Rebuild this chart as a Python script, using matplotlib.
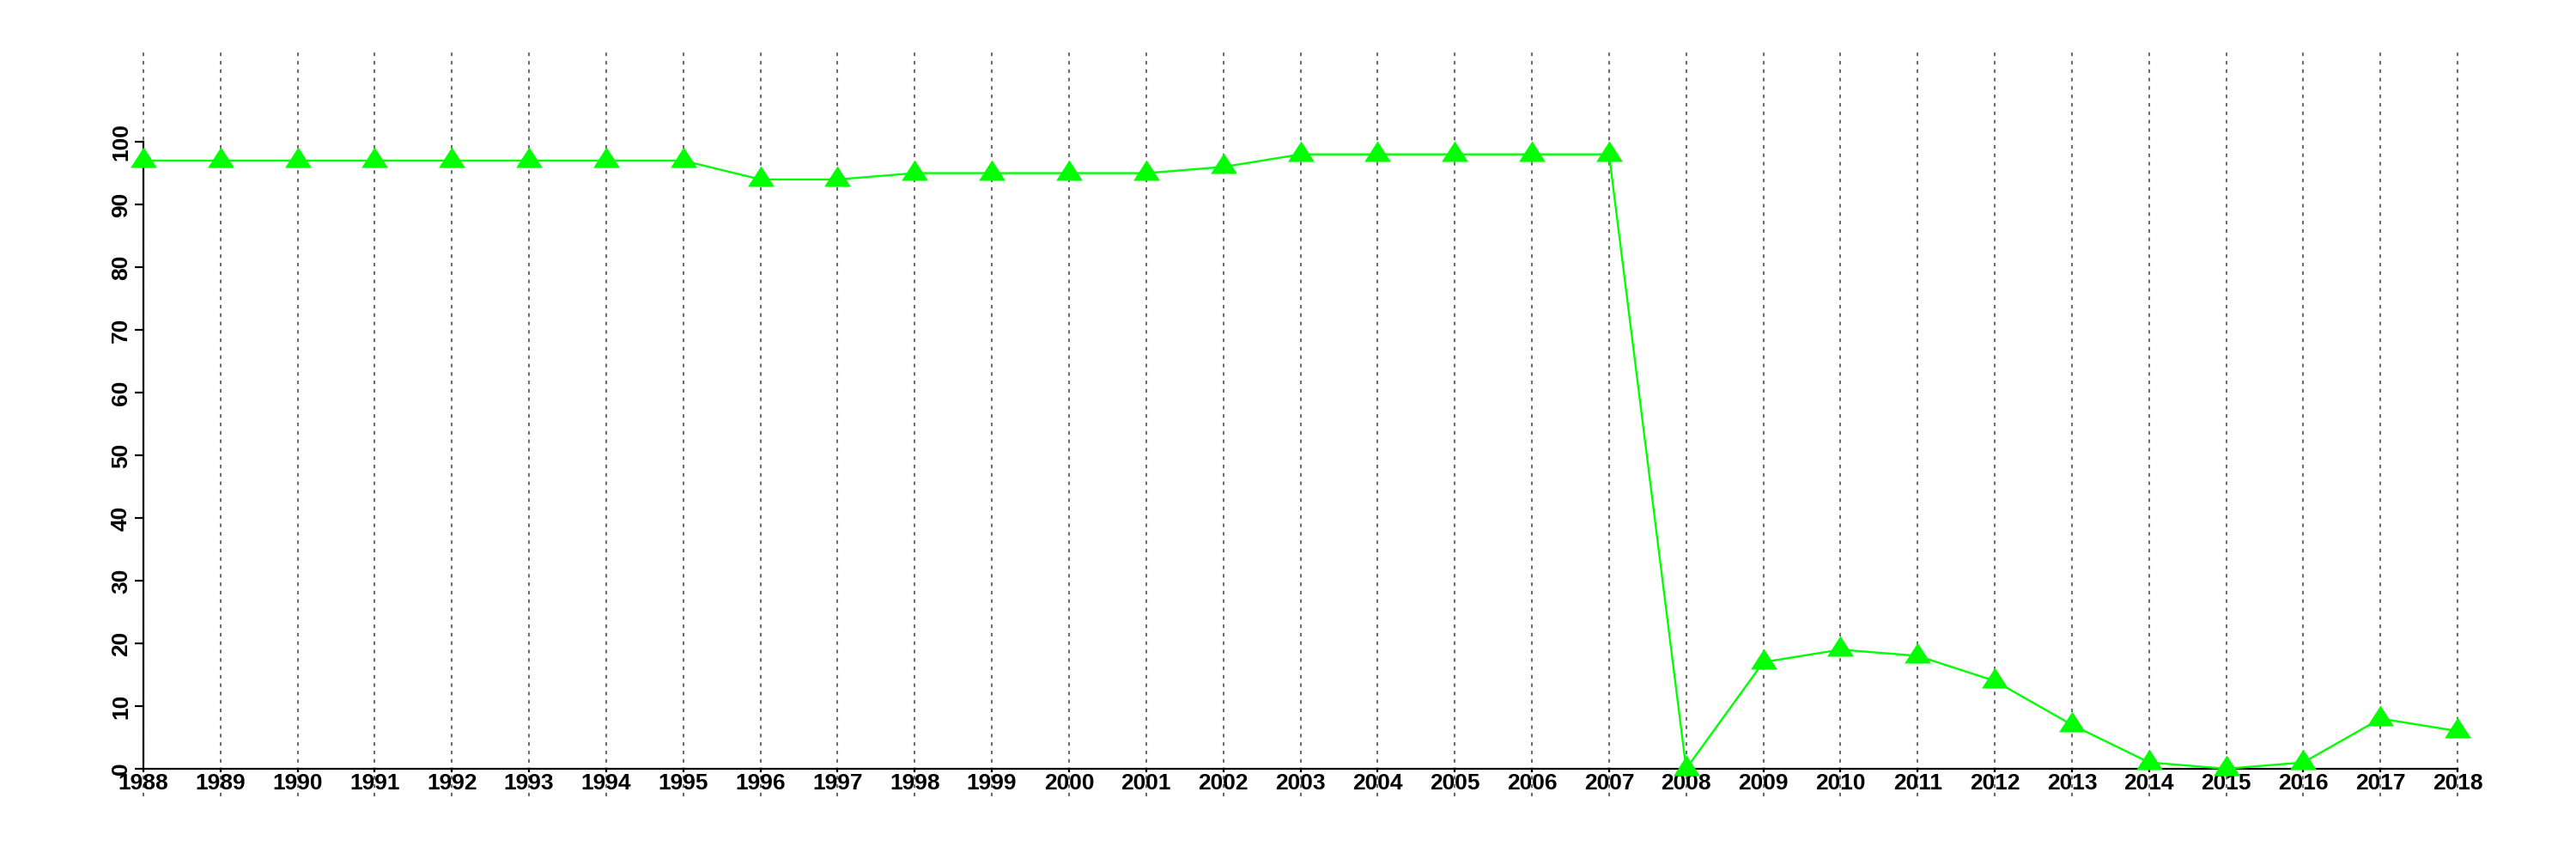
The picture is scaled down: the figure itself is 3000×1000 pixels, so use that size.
import matplotlib
matplotlib.use("Agg")
import matplotlib.pyplot as plt
from matplotlib.path import Path
import numpy as np

# data
years = list(range(1988, 2019))
values = [97, 97, 97, 97, 97, 97, 97, 97, 94, 94,
          95, 95, 95, 95, 96, 98, 98, 98, 98, 98,
          0, 17, 19, 18, 14, 7, 1, 0, 1, 8, 6]
y_ticks = list(range(0, 101, 10))

plt.rcParams['font.family'] = ['Liberation Sans Narrow', 'Liberation Sans', 'DejaVu Sans']
plt.rcParams['font.weight'] = 'bold'

fig = plt.figure(figsize=(30, 10), dpi=100)
fig.patch.set_facecolor('white')
ax = fig.add_axes([59 / 3000, 0.073, (2970 - 59) / 3000, 0.94 - 0.073])

# triangle with its centroid on the data point (like R's pch 17)
tri = Path([(0, 2), (-1.93, -1), (1.93, -1), (0, 2)],
           [Path.MOVETO, Path.LINETO, Path.LINETO, Path.CLOSEPOLY])

# dashed vertical grid, one per year
for yr in years:
    ax.axvline(yr, color='#6e6e6e', lw=1.5, dashes=(2.0, 2.7), zorder=1)

ax.plot(years, values, color='#00ff00', lw=1.7, zorder=3, clip_on=False)
ax.plot(years, values, ls='none', marker=tri, ms=23, color='#00ff00',
        markeredgewidth=0, zorder=4, clip_on=False)

ax.set_xlim(1986.8, 2019.2)
ax.set_ylim(-4.4, 114.4)

for side in ['top', 'right']:
    ax.spines[side].set_visible(False)
ax.spines['left'].set_position(('data', 1988))
ax.spines['bottom'].set_position(('data', 0))
ax.spines['left'].set_bounds(0, 100)
ax.spines['bottom'].set_bounds(1988, 2018)
for side in ['left', 'bottom']:
    ax.spines[side].set_linewidth(1.6)
    ax.spines[side].set_zorder(2)

ax.set_xticks(years)
ax.set_xticklabels([str(y) for y in years])
ax.set_yticks(y_ticks)
ax.set_yticklabels([str(v) for v in y_ticks], rotation=90, va='center')

ax.tick_params(axis='x', length=3, width=1.6, pad=1, labelsize=19)
ax.tick_params(axis='y', length=7, width=1.6, pad=3, labelsize=19)
ax.set_facecolor('none')

plt.savefig('out.png', dpi=100, facecolor='white')
plt.close()
